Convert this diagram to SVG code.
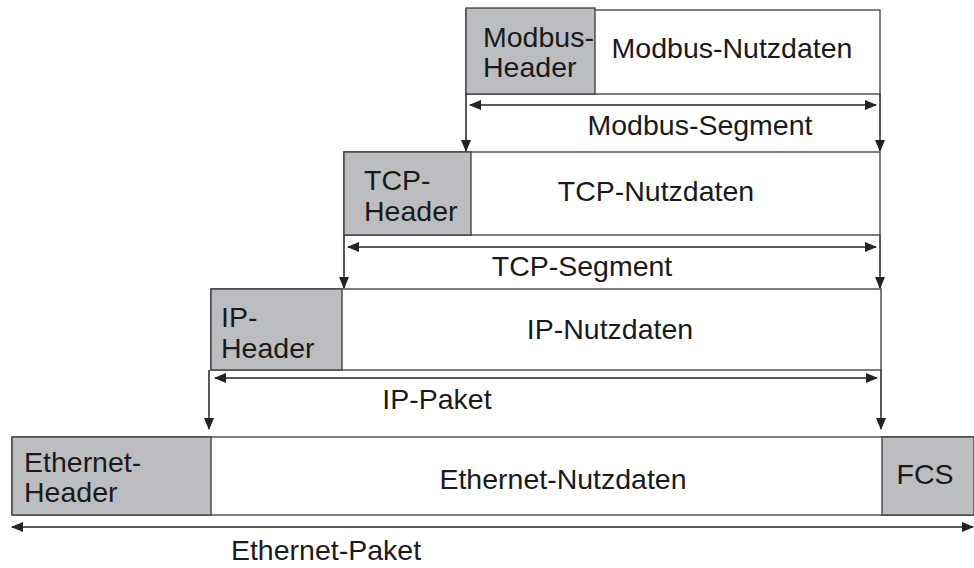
<svg xmlns="http://www.w3.org/2000/svg" width="974" height="568" viewBox="0 0 974 568">
<style>
.box{fill:#fff;stroke:#3a3a3a;stroke-width:1.3}
.hdr{fill:#bcbdc0;stroke:#3a3a3a;stroke-width:1.3}
.ln{stroke:#222;stroke-width:1.5;fill:none}
text{font-family:"Liberation Sans",Arial,sans-serif;font-size:28.5px;fill:#1a1a1a}
.m{text-anchor:middle}
</style>
<defs>
<marker id="ah" viewBox="0 0 12 10" refX="11" refY="5" markerWidth="12" markerHeight="10" markerUnits="userSpaceOnUse" orient="auto-start-reverse">
<path d="M0,0 L12,5 L0,10 z" fill="#222"/>
</marker>
</defs>
<rect width="974" height="568" fill="#fff"/>
<g id="modbus">
<rect class="box" x="466" y="10" width="414" height="84"/>
<rect class="hdr" x="466" y="8" width="129" height="86"/>
<text x="483" y="47">Modbus-</text>
<text x="483" y="77">Header</text>
<text class="m" x="732" y="58">Modbus-Nutzdaten</text>
</g>
<g id="tcp">
<rect class="box" x="344" y="152" width="536" height="83"/>
<rect class="hdr" x="344" y="152" width="127" height="83"/>
<text x="364" y="190">TCP-</text>
<text x="364" y="221">Header</text>
<text class="m" x="656" y="201">TCP-Nutzdaten</text>
</g>
<g id="ip">
<rect class="box" x="211" y="289" width="670" height="81"/>
<rect class="hdr" x="211" y="289" width="131" height="81"/>
<text x="221" y="327">IP-</text>
<text x="221" y="358">Header</text>
<text class="m" x="610" y="339">IP-Nutzdaten</text>
</g>
<g id="ethernet">
<rect class="box" x="12" y="437" width="962" height="78"/>
<rect class="hdr" x="12" y="437" width="199" height="78"/>
<rect class="hdr" x="882" y="437" width="92" height="78"/>
<text x="24" y="472">Ethernet-</text>
<text x="24" y="502">Header</text>
<text class="m" x="563" y="489">Ethernet-Nutzdaten</text>
<text class="m" x="925" y="484">FCS</text>
</g>
<g id="connectors">
<line class="ln" x1="470" y1="105" x2="876" y2="105" marker-start="url(#ah)" marker-end="url(#ah)"/>
<line class="ln" x1="466" y1="94" x2="466" y2="151" marker-end="url(#ah)"/>
<line class="ln" x1="880" y1="94" x2="880" y2="151" marker-end="url(#ah)"/>
<line class="ln" x1="348" y1="247" x2="876" y2="247" marker-start="url(#ah)" marker-end="url(#ah)"/>
<line class="ln" x1="344" y1="235" x2="344" y2="288" marker-end="url(#ah)"/>
<line class="ln" x1="880" y1="235" x2="880" y2="288" marker-end="url(#ah)"/>
<line class="ln" x1="215" y1="378" x2="877" y2="378" marker-start="url(#ah)" marker-end="url(#ah)"/>
<line class="ln" x1="209" y1="370" x2="209" y2="429" marker-end="url(#ah)"/>
<line class="ln" x1="881" y1="370" x2="881" y2="429" marker-end="url(#ah)"/>
<line class="ln" x1="12" y1="527" x2="973" y2="527" marker-start="url(#ah)" marker-end="url(#ah)"/>
</g>
<g id="labels">
<text class="m" x="700" y="135">Modbus-Segment</text>
<text class="m" x="582" y="276">TCP-Segment</text>
<text class="m" x="437" y="409">IP-Paket</text>
<text class="m" x="326" y="560">Ethernet-Paket</text>
</g>
</svg>
